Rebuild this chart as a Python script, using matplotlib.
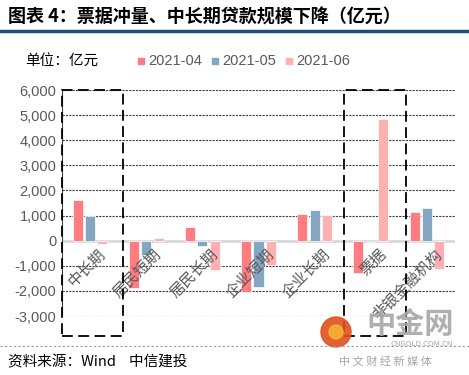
import numpy as np
import matplotlib.pyplot as plt
from matplotlib.patches import Rectangle, Ellipse
from matplotlib.lines import Line2D

plt.rcParams['font.family'] = ['Noto Sans CJK SC', 'DejaVu Sans']

categories = ['中长期', '居民短期', '居民长期', '企业短期', '企业长期', '票据', '非银金融机构']
series_names = ['2021-04', '2021-05', '2021-06']
v_apr = [1600, -1900, 530, -2040, 1070, -1300, 1150]
v_may = [1000, -580, -220, -1830, 1230, -50, 1310]
v_jun = [-150, 100, -1180, -950, 1020, 4840, -1120]
colors = ['#FF7C80', '#85A6C0', '#FFB0B2']
yticks = [-3000, -2000, -1000, 0, 1000, 2000, 3000, 4000, 5000, 6000]

W, H = 469, 375
fig = plt.figure(figsize=(W / 100, H / 100), dpi=100)

def px(x, y):
    return x / W, 1 - y / H

# plot area: x 62..455, y 90 (6000) .. 316 (-3000)
ax = fig.add_axes([62 / W, 1 - 316 / H, (455 - 62) / W, (316 - 90) / H])
x = np.arange(len(categories))
bw, step = 0.18, 0.22
for i, vals in enumerate([v_apr, v_may, v_jun]):
    ax.bar(x + (i - 1) * step, vals, bw, color=colors[i], edgecolor='white', linewidth=0.5, zorder=3)

ax.set_xlim(-0.5, len(categories) - 0.5)
ax.set_ylim(-3000, 6000)
ax.set_yticks(yticks)
ax.set_yticklabels([f'{v:,}' for v in yticks], color='#595959', fontsize=10.5,
                   family=['Liberation Sans', 'DejaVu Sans'])
ax.tick_params(axis='y', length=0, pad=4)
ax.set_xticks([])
for s in ax.spines.values():
    s.set_visible(False)
for v in yticks:
    if v != 0:
        ax.axhline(v, color='#404040', lw=0.8, ls=(0, (2, 1)), zorder=1)
ax.axhline(0, color='#D9D9D9', lw=2, zorder=2)
ax.plot([-0.5, -0.5], [-3000, 6000], color='#404040', lw=0.8, zorder=2)

# category labels sit just under the zero line, rotated
for xi, lab in zip(x, categories):
    ax.text(xi + 0.12, -200, lab, rotation=45, ha='right', va='top', fontsize=11,
            color='#595959', rotation_mode='anchor', zorder=4)

# dashed boxes
for x0, x1 in [(-0.5, 0.59), (4.52, 5.625)]:
    ax.add_patch(Rectangle((x0, -3810), x1 - x0, 6000 + 3810, fill=False, ec='black',
                           lw=1.3, ls=(0, (6, 3)), clip_on=False, zorder=5))

# header
fig.text(*px(8, 17), '图表 4：票据冲量、中长期贷款规模下降（亿元）', fontsize=13, weight='bold',
         va='center', ha='left', color='black')
fig.add_artist(Line2D([0, 1], [1 - 31 / H] * 2, color='#1F4E79', lw=2.5))

# legend
fig.text(*px(25, 61), '单位：亿元', fontsize=10.5, va='center', color='black')
for i, name in enumerate(series_names):
    lx = 138 + i * 74
    fig.add_artist(Rectangle(px(lx, 64), 6 / W, 6 / H, color=colors[i]))
    fig.text(*px(lx + 10, 61), name, fontsize=10.5, va='center', color='#595959',
             family=['Liberation Sans', 'DejaVu Sans'])

# footer
fig.add_artist(Line2D([0, 1], [1 - 346 / H] * 2, color='#999999', lw=0.8, ls=(0, (2, 2))))
fig.text(*px(8, 362), '资料来源：Wind    中信建投', fontsize=10.5, va='center', color='black',
         style='italic')

# watermark
fig.add_artist(Ellipse(px(336, 332), 30 / W, 30 / H, color='#E0501E', alpha=0.9,
                       transform=fig.transFigure))
fig.add_artist(Ellipse(px(336, 332), 14 / W, 14 / H, color='#F6B330', alpha=0.9,
                       transform=fig.transFigure))
fig.text(*px(410, 324), '中金网', fontsize=21, weight='bold', color='#A6A6A6', ha='center', va='center', alpha=0.9)
fig.text(*px(422, 344), 'CNGOLD.COM.CN', fontsize=5.5, color='#A6A6A6', ha='center', va='center')
fig.text(*px(385, 361), '中 文 财 经 新 媒 体', fontsize=8, color='#A6A6A6', ha='center', va='center')

fig.savefig('out.png', dpi=100)
